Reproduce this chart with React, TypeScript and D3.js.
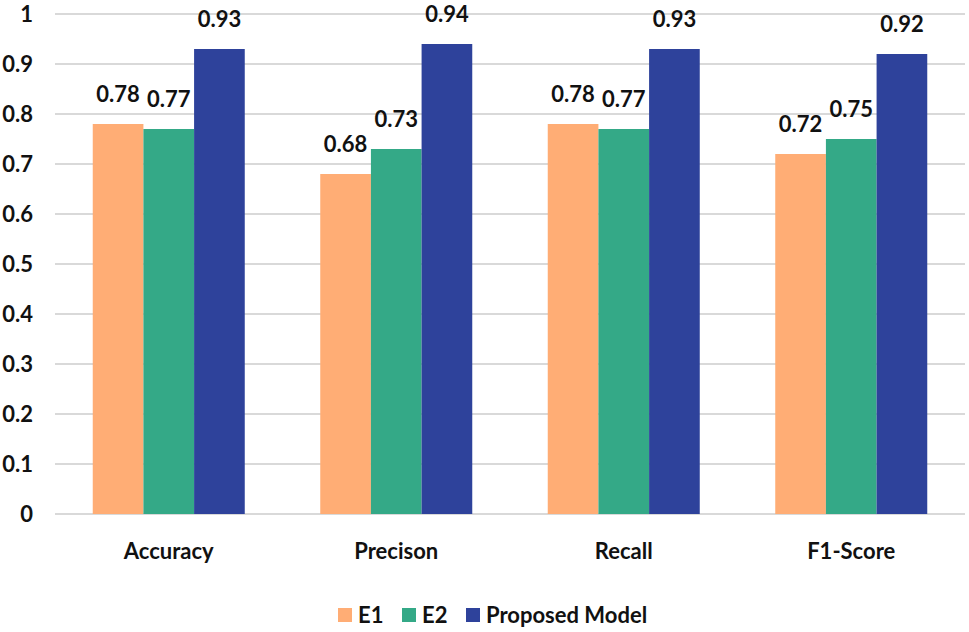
import React from "react";
import * as d3 from "d3";

const categories = ["Accuracy", "Precison", "Recall", "F1-Score"];
const seriesNames = ["E1", "E2", "Proposed Model"];
const e1Values = [0.78, 0.68, 0.78, 0.72];
const e2Values = [0.77, 0.73, 0.77, 0.75];
const proposedValues = [0.93, 0.94, 0.93, 0.92];
const yTicks = [0, 0.1, 0.2, 0.3, 0.4, 0.5, 0.6, 0.7, 0.8, 0.9, 1];
const colors = ["#FFAD75", "#34A987", "#2E429B"];

const W = 969;
const H = 632;
const FONT = "Lato, 'Open Sans', sans-serif";

export default function App() {
  const series = [e1Values, e2Values, proposedValues];
  const x = d3.scaleBand<string>().domain(categories).range([55, 965]).paddingInner(0).paddingOuter(0);
  const inner = d3
    .scaleBand<string>()
    .domain(seriesNames)
    .range([0, x.bandwidth()])
    .paddingInner(0)
    .paddingOuter(0.745);
  const y = d3.scaleLinear().domain([0, 1]).range([514, 14]);

  return (
    <svg
      width={W}
      height={H}
      style={{ position: "absolute", left: 0, top: 0, background: "#fff" }}
      fontFamily={FONT}
    >
      <rect x={0} y={0} width={W} height={H} fill="#fff" />
      {yTicks.map((t) => (
        <g key={t}>
          <line x1={55} x2={965} y1={y(t)} y2={y(t)} stroke="#D9D9D9" strokeWidth={2} />
          <text x={33} y={y(t)} dy="0.36em" textAnchor="end" fontSize={22} fontWeight={700} fill="#111">
            {d3.format("~g")(t)}
          </text>
        </g>
      ))}
      {categories.map((c, ci) => (
        <g key={c}>
          {series.map((vals, si) => {
            const bx = (x(c) as number) + (inner(seriesNames[si]) as number);
            const bw = inner.bandwidth();
            return (
              <g key={si}>
                <rect x={bx} y={y(vals[ci])} width={bw} height={y(0) - y(vals[ci])} fill={colors[si]} />
                <text
                  x={bx + bw / 2}
                  y={y(vals[ci]) - 22}
                  textAnchor="middle"
                  fontSize={22}
                  fontWeight={700}
                  fill="#111"
                >
                  {vals[ci].toFixed(2)}
                </text>
              </g>
            );
          })}
          <text
            x={(x(c) as number) + x.bandwidth() / 2}
            y={559}
            textAnchor="middle"
            fontSize={22}
            fontWeight={700}
            fill="#111"
          >
            {c}
          </text>
        </g>
      ))}
      {(() => {
        const starts = [338, 402, 466];
        return seriesNames.map((s, i) => (
          <g key={s}>
            <rect x={starts[i]} y={608} width={14} height={14} fill={colors[i]} />
            <text x={starts[i] + 20} y={623} fontSize={22} fontWeight={700} fill="#111">
              {s}
            </text>
          </g>
        ));
      })()}
    </svg>
  );
}
